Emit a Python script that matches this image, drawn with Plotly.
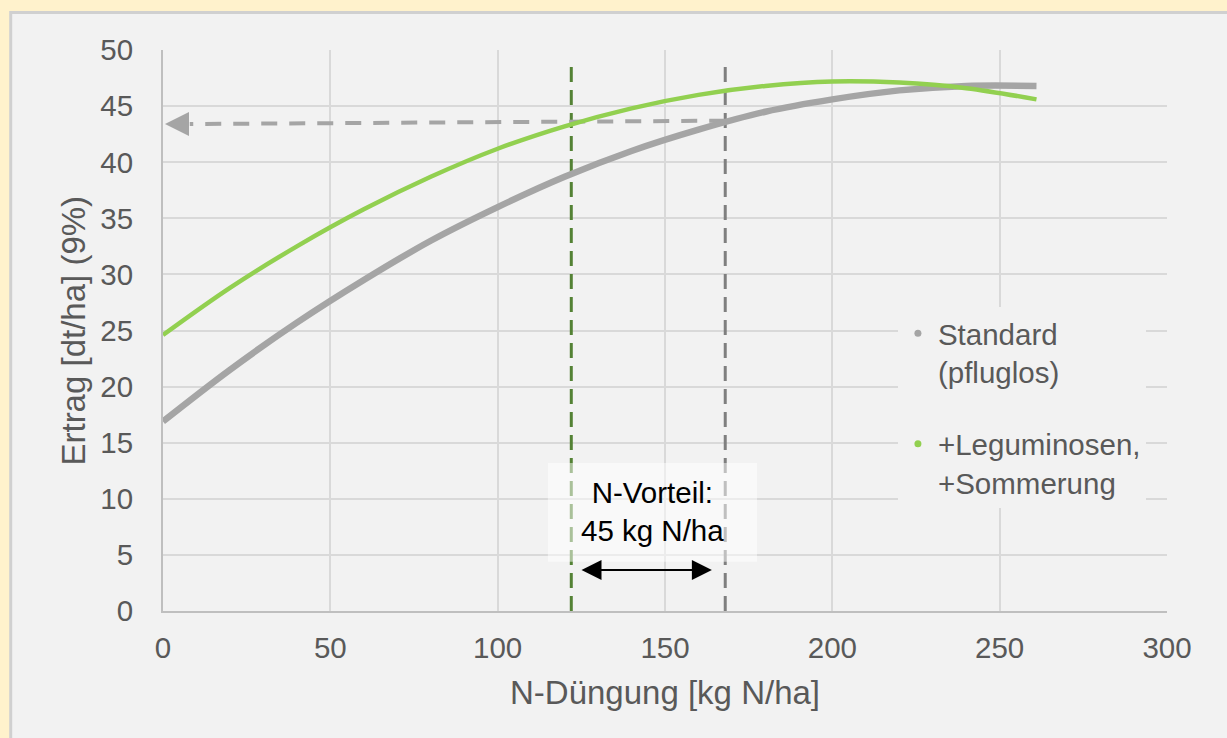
import plotly.graph_objects as go

# --- data ---
n_rate = [0, 20, 40, 60, 80, 100, 120, 140, 160, 180, 200, 220, 240, 261]
yield_standard = [16.9, 21.5, 25.7, 29.5, 33.0, 36.0, 38.7, 41.0, 42.9, 44.5, 45.6, 46.4, 46.8, 46.8]
yield_legum = [24.6, 28.8, 32.5, 35.8, 38.7, 41.2, 43.2, 44.8, 46.0, 46.8, 47.2, 47.1, 46.6, 45.6]

series_names = ["Standard<br>(pfluglos)", "+Leguminosen,<br>+Sommerung"]
series_colors = ["#A5A5A5", "#92D050"]

n_opt_legum = 122        # kg N/ha, green marker line
n_opt_standard = 168     # kg N/ha, grey marker line
yield_ref_std = 43.7     # yield level of dashed arrow (right end)
yield_ref_arrow = 43.4   # yield level at arrow tip
vline_top = 48.8

x_ticks = [0, 50, 100, 150, 200, 250, 300]
y_ticks = [0, 5, 10, 15, 20, 25, 30, 35, 40, 45, 50]

box_text = "N-Vorteil:<br>45 kg N/ha"
x_title = "N-Düngung [kg N/ha]"
y_title = "Ertrag [dt/ha] (9%)"

FONT = "Liberation Sans, Arial, sans-serif"
TXT = "#595959"

fig = go.Figure()

# vertical dashed reference lines
fig.add_trace(go.Scatter(x=[n_opt_legum, n_opt_legum], y=[0, vline_top], mode="lines",
                         line=dict(color="#548235", width=3, dash="15px,8px"),
                         showlegend=False, hoverinfo="skip"))
fig.add_trace(go.Scatter(x=[n_opt_standard, n_opt_standard], y=[0, vline_top], mode="lines",
                         line=dict(color="#7F7F7F", width=3, dash="15px,8px"),
                         showlegend=False, hoverinfo="skip"))
# horizontal dashed arrow line
fig.add_trace(go.Scatter(x=[n_opt_standard, 8], y=[yield_ref_std, yield_ref_arrow], mode="lines",
                         line=dict(color="#A5A5A5", width=4, dash="16px,12px"),
                         showlegend=False, hoverinfo="skip"))

# curves
fig.add_trace(go.Scatter(x=n_rate, y=yield_standard, mode="lines", line_shape="spline",
                         line=dict(color=series_colors[0], width=6.5),
                         showlegend=False, hoverinfo="x+y"))
fig.add_trace(go.Scatter(x=n_rate, y=yield_legum, mode="lines", line_shape="spline",
                         line=dict(color=series_colors[1], width=4.5),
                         showlegend=False, hoverinfo="x+y"))

# legend entries (dot markers)
for i, (name, col) in enumerate(zip(series_names, series_colors)):
    fig.add_trace(go.Scatter(x=[None], y=[None], mode="markers", name=name,
                             legendgroup=f"g{i}",
                             marker=dict(color=col, size=7)))

shapes = [
    # outer panel with border
    dict(type="rect", xref="paper", yref="paper", x0=-0.1517, x1=1.1, y0=-0.3, y1=1.0668,
         fillcolor="#F2F2F2", line=dict(color="#D0D0D0", width=3), layer="below"),
    # translucent text box
    dict(type="rect", xref="x", yref="y", x0=115, x1=177.5, y0=4.4, y1=13.2,
         fillcolor="rgba(255,255,255,0.5)", line=dict(width=0), layer="above"),
]

annotations = [
    dict(x=146.2, y=8.9, xref="x", yref="y", text=box_text, showarrow=False,
         font=dict(family=FONT, size=29.5, color="#000000"), align="center"),
    # double arrow
    dict(x=164, y=3.65, ax=124.6, ay=3.65, xref="x", yref="y", axref="x", ayref="y",
         text="", showarrow=True, arrowhead=2, startarrowhead=2, arrowside="end+start",
         arrowwidth=2, arrowsize=2, startarrowsize=2, arrowcolor="#000000"),
    # grey arrow head
    dict(x=0.6, y=yield_ref_arrow, ax=7.5, ay=yield_ref_arrow, xref="x", yref="y", axref="x", ayref="y",
         text="", showarrow=True, arrowhead=2, arrowwidth=3, arrowsize=1.6, arrowcolor="#A5A5A5"),
    # axis titles
    dict(x=0.5, y=-0.146, xref="paper", yref="paper", text=x_title, showarrow=False,
         font=dict(family=FONT, size=33, color=TXT), xanchor="center", yanchor="middle"),
    dict(x=-0.0896, y=0.5, xref="paper", yref="paper", text=y_title, showarrow=False, textangle=-90,
         font=dict(family=FONT, size=33, color=TXT), xanchor="center", yanchor="middle"),
]

fig.update_layout(
    width=1227, height=738,
    margin=dict(l=163, r=60, t=50, b=127),
    paper_bgcolor="#FFF2CC",
    plot_bgcolor="#F2F2F2",
    font=dict(family=FONT, color=TXT),
    shapes=shapes,
    annotations=annotations,
    showlegend=True,
    legend=dict(x=0.732, y=0.541, xanchor="left", yanchor="top",
                bgcolor="#F2F2F2", borderwidth=0, valign="top",
                tracegroupgap=31, font=dict(family=FONT, size=29.5, color=TXT)),
    xaxis=dict(range=[0, 300], tickvals=x_ticks, ticktext=[str(v) for v in x_ticks],
               showgrid=True, gridcolor="#D9D9D9", gridwidth=2,
               showline=True, linecolor="#BFBFBF", linewidth=2,
               zeroline=False, ticks="", ticklabelstandoff=10,
               tickfont=dict(family=FONT, size=29.5, color=TXT)),
    yaxis=dict(range=[0, 50], tickvals=y_ticks, ticktext=[str(v) for v in y_ticks],
               showgrid=True, gridcolor="#D9D9D9", gridwidth=2,
               showline=True, linecolor="#BFBFBF", linewidth=2,
               zeroline=False, ticks="", ticklabelstandoff=22,
               tickfont=dict(family=FONT, size=29.5, color=TXT)),
)

fig.write_html(
    "out.html",
    config={"displayModeBar": False},
    post_script="document.body.style.margin='0';document.body.style.background='#FFF2CC';",
)
